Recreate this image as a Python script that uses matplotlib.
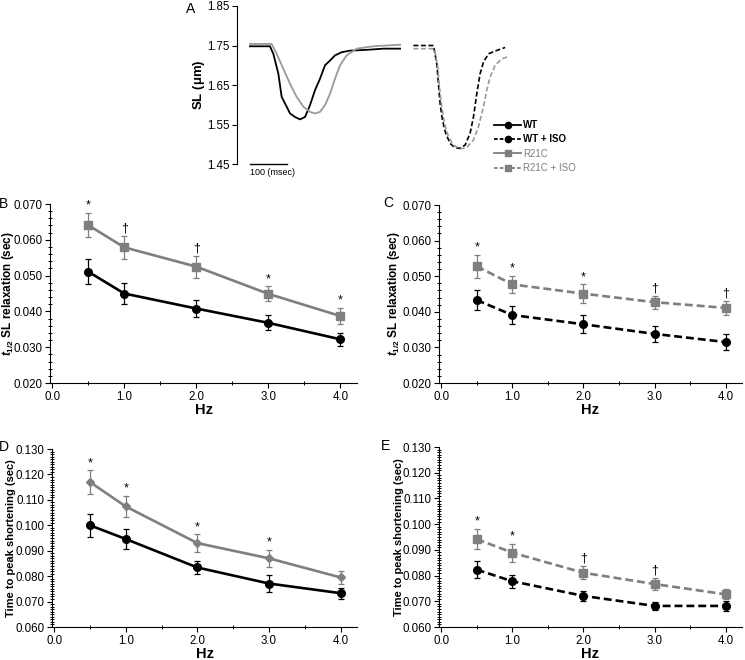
import numpy as np
import matplotlib.pyplot as plt
from matplotlib.ticker import MultipleLocator, FormatStrFormatter
from matplotlib.lines import Line2D

plt.rcParams['font.family'] = ['Liberation Sans', 'DejaVu Sans']
plt.rcParams['mathtext.fontset'] = 'custom'
plt.rcParams['mathtext.it'] = 'Liberation Sans:italic:bold'
plt.rcParams['mathtext.rm'] = 'Liberation Sans:bold'
plt.rcParams['mathtext.bf'] = 'Liberation Sans:bold'

GRAY = '#7f7f7f'

# ---- panel A: sarcomere length traces (time in msec, SL in um) ----
wt_t = [0, 54, 63, 76.5, 85.5, 99, 108, 121.5, 135, 148.5, 162, 175.5, 189,
        202.5, 216, 229.5, 247.5, 270, 315, 360, 405]
wt_sl = [1.748, 1.748, 1.729, 1.679, 1.620, 1.595, 1.578, 1.569, 1.563, 1.569,
         1.599, 1.637, 1.666, 1.700, 1.712, 1.725, 1.733, 1.737, 1.739, 1.742, 1.742]
r21c_t = [0, 58.5, 72, 90, 108, 126, 144, 162, 175.5, 189, 202.5, 216, 229.5,
          243, 261, 288, 333, 405]
r21c_sl = [1.754, 1.754, 1.729, 1.691, 1.653, 1.620, 1.595, 1.582, 1.578, 1.582,
           1.599, 1.628, 1.666, 1.700, 1.725, 1.742, 1.748, 1.752]
wtiso_t = [441, 495, 504, 508.5, 513, 519.3, 528, 540, 553.5, 567, 580.5, 594,
           603, 612, 621, 630, 643.5, 661.5, 688.5]
wtiso_sl = [1.750, 1.750, 1.704, 1.653, 1.603, 1.561, 1.528, 1.502, 1.491, 1.490,
            1.498, 1.528, 1.569, 1.628, 1.679, 1.708, 1.729, 1.736, 1.745]
r21ciso_t = [441, 497.7, 506.7, 511.2, 517.5, 524.7, 535.5, 549, 567, 585, 603,
             616.5, 630, 639, 648, 661.5, 679.5, 697]
r21ciso_sl = [1.742, 1.742, 1.695, 1.645, 1.595, 1.553, 1.519, 1.498, 1.488, 1.492,
              1.511, 1.544, 1.595, 1.637, 1.670, 1.700, 1.716, 1.722]
sl_ticks = [1.45, 1.55, 1.65, 1.75, 1.85]

# ---- panels B-E ----
hz = [0.5, 1.0, 2.0, 3.0, 4.0]

# B: t1/2 relaxation, no ISO
b_wt = [0.0511, 0.0450, 0.0408, 0.0368, 0.0322]
b_wt_err = [0.0035, 0.0030, 0.0025, 0.0021, 0.0019]
b_r21c = [0.0641, 0.0579, 0.0525, 0.0449, 0.0387]
b_r21c_err = [0.0033, 0.0033, 0.0031, 0.0021, 0.0022]
b_sig = ['*', '\u2020', '\u2020', '*', '*']

# C: t1/2 relaxation, + ISO
c_wt = [0.0433, 0.0391, 0.0365, 0.0338, 0.0315]
c_wt_err = [0.0029, 0.0026, 0.0025, 0.0023, 0.0023]
c_r21c = [0.0528, 0.0477, 0.0451, 0.0427, 0.0411]
c_r21c_err = [0.0032, 0.0024, 0.0026, 0.0018, 0.0020]
c_sig = ['*', '*', '*', '\u2020', '\u2020']

# D: time to peak shortening, no ISO
d_wt = [0.1000, 0.0946, 0.0834, 0.0771, 0.0733]
d_wt_err = [0.0045, 0.0038, 0.0026, 0.0032, 0.0021]
d_r21c = [0.1170, 0.1074, 0.0930, 0.0870, 0.0795]
d_r21c_err = [0.0046, 0.0040, 0.0034, 0.0033, 0.0026]
d_sig = ['*', '*', '*', '*', '']

# E: time to peak shortening, + ISO
e_wt = [0.0823, 0.0778, 0.0721, 0.0682, 0.0682]
e_wt_err = [0.0034, 0.0026, 0.0018, 0.0015, 0.0018]
e_r21c = [0.0942, 0.0889, 0.0811, 0.0767, 0.0727]
e_r21c_err = [0.0039, 0.0035, 0.0025, 0.0025, 0.0019]
e_sig = ['*', '*', '\u2020', '\u2020', '']

relax_label = r'$t_{\mathrm{1/2}}$ SL relaxation (sec)'
ttp_label = 'Time to peak shortening (sec)'

W, H = 745, 660
fig = plt.figure(figsize=(W / 100, H / 100), dpi=100)


def px_axes(left, top, right, bottom):
    return fig.add_axes([left / W, 1 - bottom / H, (right - left) / W, (bottom - top) / H])


def panel(ax, box, wt, wt_err, r21c, r21c_err, sig, ls, ylim, ylabel, label_x,
          label_size, minor_step, gray_marker='s'):
    ax.errorbar(hz, wt, yerr=wt_err, color='black', ls=ls, lw=1.9, marker='o',
                ms=5.5, ecolor='black', elinewidth=0.9, capsize=2.5, capthick=0.9, zorder=3)
    ax.errorbar(hz, r21c, yerr=r21c_err, color=GRAY, ls=ls, lw=1.9, marker=gray_marker,
                ms=5.5 if gray_marker == 's' else 4.5, ecolor=GRAY, elinewidth=0.9,
                capsize=2.5, capthick=0.9, zorder=3)
    for x, y, e, s in zip(hz, r21c, r21c_err, sig):
        if s:
            ax.annotate(s, xy=(x, y + e), xytext=(0, 1), textcoords='offset points',
                        ha='center', va='bottom', fontsize=9)
    ax.set_xlim(-0.03, 4.23)
    ax.set_ylim(*ylim)
    ax.xaxis.set_major_locator(MultipleLocator(1.0))
    ax.xaxis.set_minor_locator(MultipleLocator(0.5))
    ax.yaxis.set_major_locator(MultipleLocator(0.010))
    ax.yaxis.set_minor_locator(MultipleLocator(minor_step))
    ax.xaxis.set_major_formatter(FormatStrFormatter('%.1f'))
    ax.yaxis.set_major_formatter(FormatStrFormatter('%.3f'))
    ax.spines['top'].set_visible(False)
    ax.spines['right'].set_visible(False)
    ax.tick_params(which='major', direction='out', length=3.5, width=0.8,
                   labelsize=8.3, pad=2)
    ax.tick_params(which='minor', direction='inout', length=3, width=0.7)
    ax.set_xlabel('Hz', fontsize=10.5, fontweight='bold', labelpad=0)
    ax.set_ylabel(ylabel, fontsize=label_size, fontweight='bold')
    left, top, right, bottom = box
    # label anchor is the right edge of the rotated text
    ax.yaxis.set_label_coords((label_x - left) / (right - left), 0.5)


# panel A
axA = px_axes(237, 6, 512, 164)
axA.plot(wt_t, wt_sl, color='black', lw=1.3)
axA.plot(r21c_t, r21c_sl, color='#999999', lw=1.3)
axA.plot(wtiso_t, wtiso_sl, color='black', lw=1.2, ls=(0, (3, 1.5)))
axA.plot(r21ciso_t, r21ciso_sl, color='#999999', lw=1.2, ls=(0, (3, 1.5)))
axA.set_xlim(-35, 707)
axA.set_ylim(1.45, 1.85)
axA.set_yticks(sl_ticks)
axA.yaxis.set_major_formatter(FormatStrFormatter('%.2f'))
for s in ['top', 'right', 'bottom']:
    axA.spines[s].set_visible(False)
axA.set_xticks([])
axA.tick_params(axis='y', direction='out', length=3.5, labelsize=8.3, width=0.8, pad=2)
axA.set_ylabel(r'SL ($\mathregular{\mu}$m)', fontsize=9.5, fontweight='bold')
axA.yaxis.set_label_coords((207 - 237) / 275, 0.5)
axA.plot([0, 100], [1.45, 1.45], color='black', lw=1.0, clip_on=False)
axA.text(0, 1.44, '100 (msec)', fontsize=6.5, ha='left', va='top')

handles = [
    Line2D([], [], color='black', ls='-', marker='o', ms=4.5, lw=1.3),
    Line2D([], [], color='black', ls=(0, (2, 1.2)), marker='o', ms=4.5, lw=1.3),
    Line2D([], [], color=GRAY, ls='-', marker='s', ms=4.5, lw=1.3),
    Line2D([], [], color=GRAY, ls=(0, (2, 1.2)), marker='s', ms=4.5, lw=1.3),
]
labels = ['WT', 'WT + ISO', 'R21C', 'R21C + ISO']
leg = axA.legend(handles, labels, loc='upper left',
                 bbox_to_anchor=((494 - 237) / 275, (164 - 120) / 158),
                 frameon=False, handlelength=2.8, handletextpad=0.2,
                 labelspacing=0.45, borderaxespad=0, borderpad=0,
                 labelcolor=['black', 'black', GRAY, GRAY],
                 prop={'weight': 'bold', 'size': 7})
for t in leg.get_texts()[2:]:
    t.set_fontweight('normal')

# panels B-E
boxB = (50, 204, 357, 383)
axB = px_axes(*boxB)
panel(axB, boxB, b_wt, b_wt_err, b_r21c, b_r21c_err, b_sig, '-', (0.020, 0.070),
      relax_label, 16, 8.5, 0.002)
boxC = (439, 205, 742, 383)
axC = px_axes(*boxC)
panel(axC, boxC, c_wt, c_wt_err, c_r21c, c_r21c_err, c_sig, (0, (3, 1.5)), (0.020, 0.070),
      relax_label, 402, 8.5, 0.002)
boxD = (52, 449, 357, 627)
axD = px_axes(*boxD)
panel(axD, boxD, d_wt, d_wt_err, d_r21c, d_r21c_err, d_sig, '-', (0.060, 0.130),
      ttp_label, 16, 8, 0.001, gray_marker='D')
boxE = (439, 447, 742, 627)
axE = px_axes(*boxE)
panel(axE, boxE, e_wt, e_wt_err, e_r21c, e_r21c_err, e_sig, (0, (3, 1.5)), (0.060, 0.130),
      ttp_label, 404, 8, 0.001)

for x, y, s in [(191, 9, 'A'), (4, 204, 'B'), (388, 203, 'C'), (4, 447, 'D'), (386, 446, 'E')]:
    fig.text(x / W, 1 - y / H, s, fontsize=10, ha='center', va='center')

fig.savefig('out.png', dpi=100)
